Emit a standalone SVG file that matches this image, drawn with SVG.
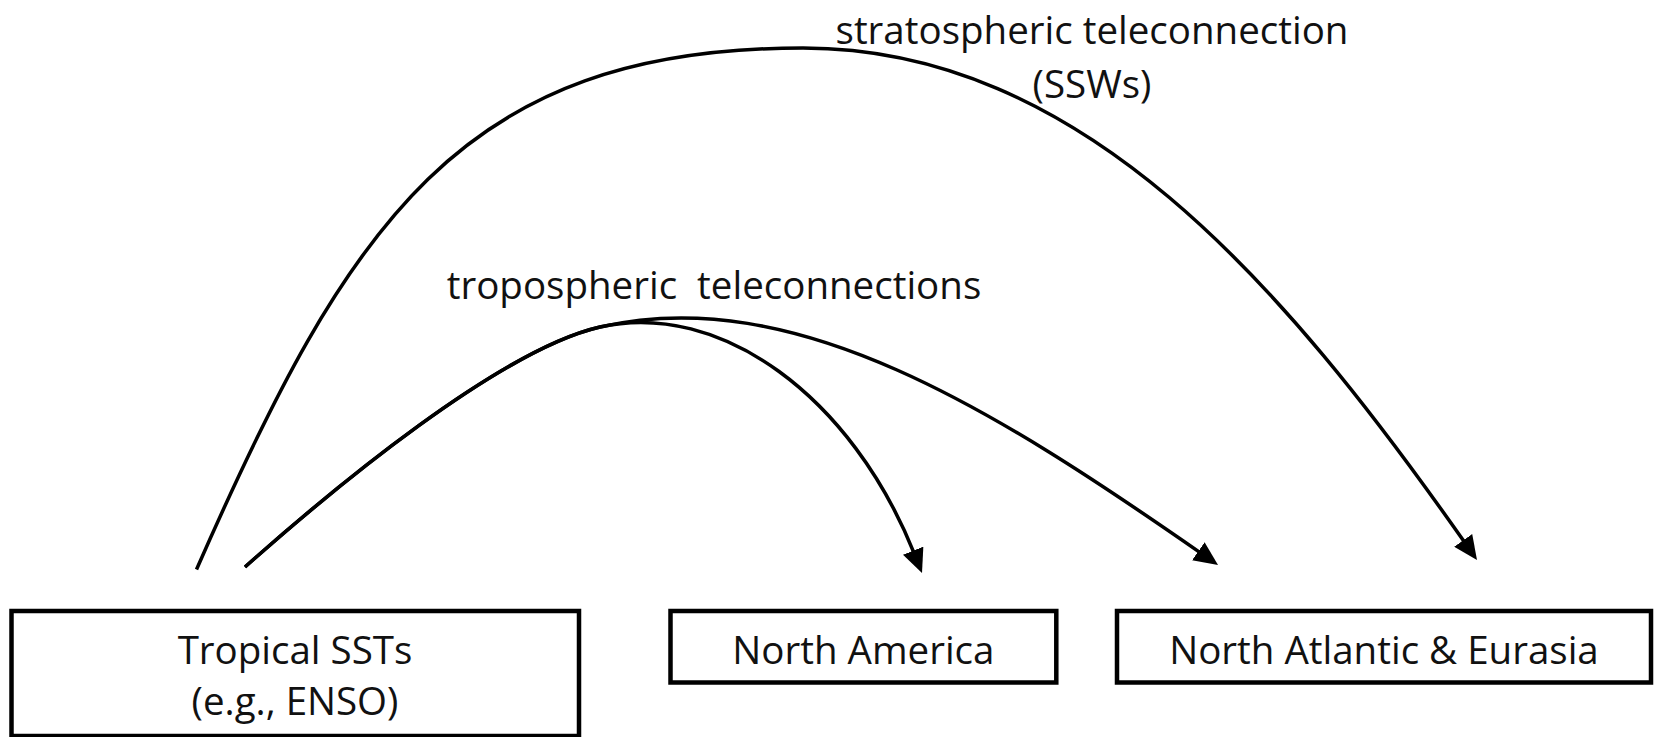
<svg xmlns="http://www.w3.org/2000/svg" width="1657" height="737" viewBox="0 0 1657 737">
  <style>
    .box { fill: #ffffff; stroke: #000000; stroke-width: 4.5; }
    .lbl { font-family: "Open Sans", "Liberation Sans", sans-serif; font-size: 38.5px; fill: #111111; text-anchor: middle; }
    .link { fill: none; stroke: #000000; stroke-width: 3.5; }
  </style>
  <defs>
    <marker id="head" markerUnits="userSpaceOnUse" markerWidth="24" markerHeight="22" viewBox="0 0 24 22" refX="4" refY="11" orient="auto">
      <path d="M0,0 L24,11 L0,22 z" fill="#000000"/>
    </marker>
  </defs>

  <rect width="1657" height="737" fill="#ffffff"/>

  <!-- connectors -->
  <g id="connectors">
    <!-- stratospheric pathway: Tropical SSTs to North Atlantic & Eurasia -->
    <path id="strat" class="link" marker-end="url(#head)"
          d="M196.5,569.5 C348,224 460,48 803,48 C1080,48 1282,281.5 1465.5,543.6"/>
    <!-- tropospheric pathway: Tropical SSTs to North America -->
    <path id="tropo-na" class="link" marker-end="url(#head)"
          d="M245,567 C335,487 500,350 600,327 C720,300 851.7,396.3 914.6,554.4"/>
    <!-- tropospheric pathway: Tropical SSTs to North Atlantic & Eurasia -->
    <path id="tropo-nae" class="link" marker-end="url(#head)"
          d="M245,567 C335,487 500,350 600,327 C795,282 996.6,411.1 1201.6,553.6"/>
  </g>

  <!-- connector labels -->
  <g id="labels">
    <text class="lbl" x="1092" y="44">stratospheric teleconnection</text>
    <text class="lbl" x="1092" y="98">(SSWs)</text>
    <text class="lbl" x="714" y="299" xml:space="preserve">tropospheric  teleconnections</text>
  </g>

  <!-- nodes -->
  <g id="tropical-ssts">
    <rect class="box" x="11.5" y="611" width="567.5" height="125"/>
    <text class="lbl" x="295" y="664">Tropical SSTs</text>
    <text class="lbl" x="295" y="715">(e.g., ENSO)</text>
  </g>
  <g id="north-america">
    <rect class="box" x="670.5" y="611" width="385.8" height="71.5"/>
    <text class="lbl" x="863.4" y="664">North America</text>
  </g>
  <g id="north-atlantic-eurasia">
    <rect class="box" x="1117" y="611" width="534" height="71.5"/>
    <text class="lbl" x="1384" y="664">North Atlantic &amp; Eurasia</text>
  </g>
</svg>
